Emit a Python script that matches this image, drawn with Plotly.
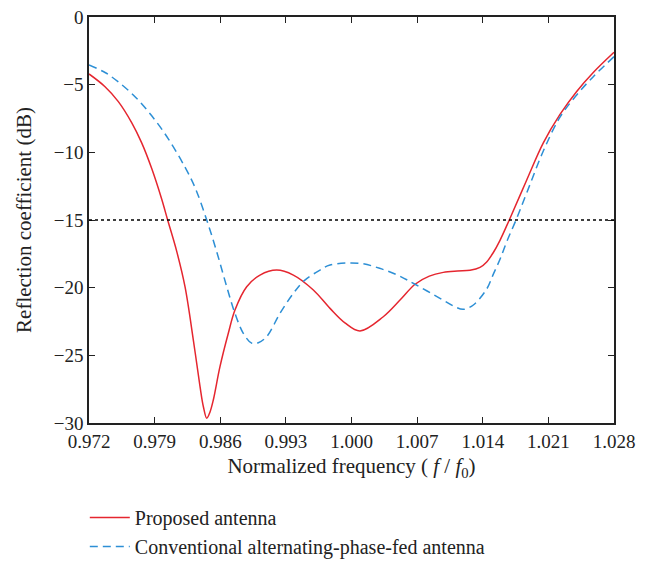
import plotly.graph_objects as go

# Normalized frequency (f/f0) and reflection coefficient (dB) for each antenna
freq_proposed = [0.97200, 0.97371, 0.97513, 0.97655, 0.97762, 0.97869, 0.97975, 0.98039,
                 0.98135, 0.98224, 0.98313, 0.98384, 0.98420, 0.98456, 0.98490, 0.98526,
                 0.98597, 0.98686, 0.98757, 0.98882, 0.99024, 0.99202, 0.99380, 0.99593,
                 0.99771, 0.99930, 1.00091, 1.00339, 1.00520, 1.00678, 1.00830, 1.00979,
                 1.01130, 1.01264, 1.01371, 1.01442, 1.01513, 1.01584, 1.01683, 1.01869,
                 1.02046, 1.02224, 1.02402, 1.02579, 1.02800]
s11_proposed = [-4.21, -5.15, -6.25, -7.8, -9.3, -11.2, -13.45, -15.0,
                -17.3, -19.93, -23.87, -27.3, -28.8, -29.65, -29.2, -28.3,
                -25.84, -23.37, -21.65, -19.93, -19.07, -18.7, -19.07, -20.17,
                -21.53, -22.6, -23.2, -22.15, -20.9, -19.75, -19.15, -18.87,
                -18.77, -18.72, -18.5, -18.1, -17.4, -16.5, -15.0, -12.04,
                -9.3, -7.2, -5.5, -4.1, -2.61]

freq_conventional = [0.97200, 0.97371, 0.97513, 0.97691, 0.97869, 0.98046, 0.98224, 0.98331,
                     0.98456, 0.98567, 0.98669, 0.98757, 0.98846, 0.98935, 0.99006, 0.99095,
                     0.99237, 0.99380, 0.99493, 0.99664, 0.99771, 1.00084, 1.00300, 1.00500,
                     1.00678, 1.00944, 1.01100, 1.01193, 1.01300, 1.01442, 1.01513, 1.01584,
                     1.01656, 1.01755, 1.01869, 1.02046, 1.02224, 1.02402, 1.02579, 1.02800]
s11_conventional = [-3.55, -4.1, -4.8, -5.89, -7.3, -9.0, -11.1, -12.6,
                    -15.0, -17.46, -19.93, -21.9, -23.37, -24.1, -24.07, -23.62,
                    -21.9, -20.42, -19.5, -18.7, -18.33, -18.2, -18.57, -19.1,
                    -19.75, -20.79, -21.4, -21.6, -21.28, -20.1, -19.0, -17.9,
                    -16.6, -15.0, -13.0, -9.9, -7.4, -5.76, -4.41, -2.93]

x_ticks = [0.972, 0.979, 0.986, 0.993, 1.000, 1.007, 1.014, 1.021, 1.028]
y_ticks = [0, -5, -10, -15, -20, -25, -30]
threshold_db = -15

serif = "Liberation Serif"
ink = "#222"

fig = go.Figure()
fig.add_trace(go.Scatter(
    x=freq_proposed, y=s11_proposed, mode="lines",
    name="Proposed antenna",
    line=dict(color="#e5262f", width=1.5, shape="spline", smoothing=1.0),
))
fig.add_trace(go.Scatter(
    x=freq_conventional, y=s11_conventional, mode="lines",
    name="Conventional alternating-phase-fed antenna",
    line=dict(color="#2d8fd5", width=1.5, dash="8px,5px", shape="spline", smoothing=1.0),
))

# -15 dB reference line across the plot
fig.add_shape(type="line", xref="paper", x0=0, x1=1, yref="y",
              y0=threshold_db, y1=threshold_db,
              line=dict(color="black", width=1.3, dash="dot"))

axis_common = dict(
    showline=True, linecolor=ink, linewidth=1.5, mirror="ticks",
    ticks="inside", ticklen=6, tickwidth=1.3, tickcolor=ink,
    showgrid=False, zeroline=False,
    tickfont=dict(family=serif, size=19, color=ink),
)

fig.update_layout(
    width=655, height=562,
    margin=dict(l=89, r=41, t=17, b=139, autoexpand=False),
    paper_bgcolor="white", plot_bgcolor="white",
    font=dict(family=serif, size=19, color=ink),
    xaxis=dict(
        range=[0.972, 1.028], tickvals=x_ticks,
        ticktext=[f"{v:.3f}" for v in x_ticks],
        title=dict(text="Normalized frequency ( <i>f</i> / <i>f</i><sub>0</sub>)",
                   font=dict(family=serif, size=21), standoff=8),
        **axis_common,
    ),
    yaxis=dict(
        range=[-30, 0], tickvals=y_ticks,
        title=dict(text="Reflection coefficient (dB)",
                   font=dict(family=serif, size=21), standoff=16),
        **axis_common,
    ),
    legend=dict(
        x=-0.008, y=-0.185, xanchor="left", yanchor="top",
        font=dict(family=serif, size=20, color=ink),
        bgcolor="rgba(0,0,0,0)", tracegroupgap=0, itemwidth=40,
    ),
    showlegend=True,
)

fig.write_html("out.html")
